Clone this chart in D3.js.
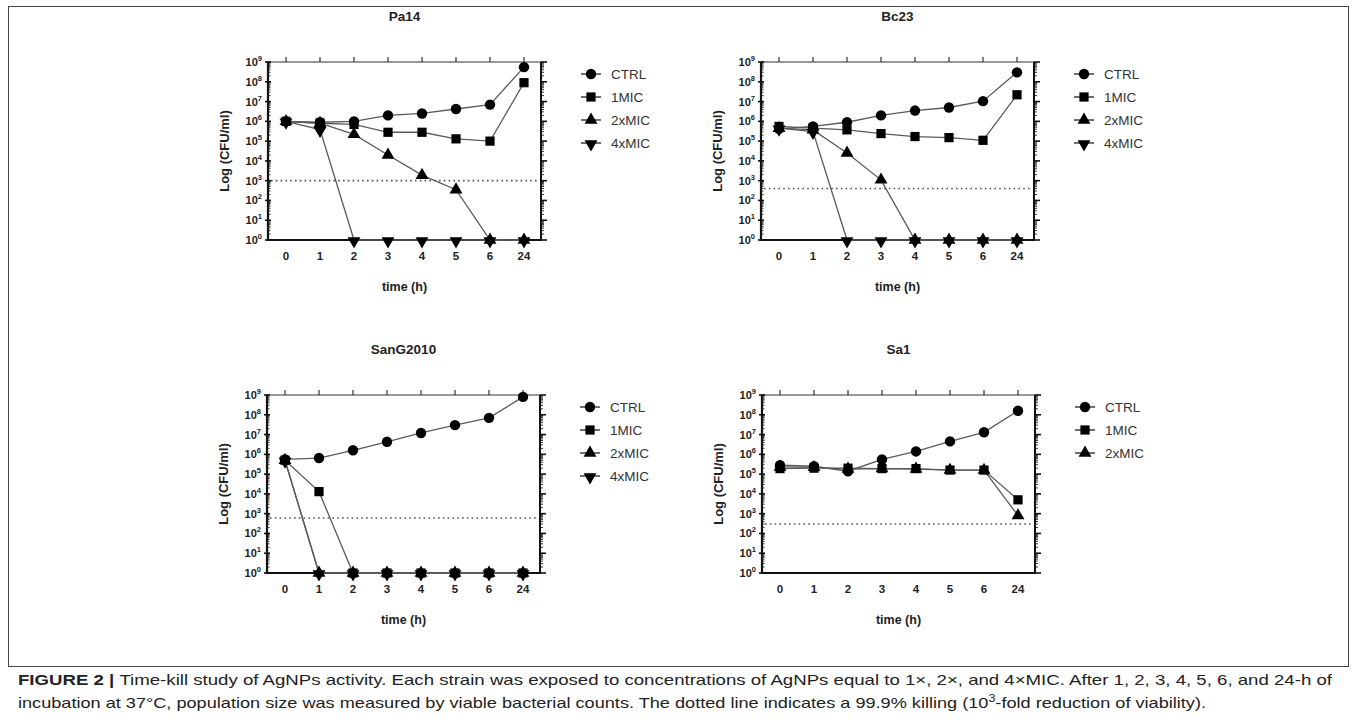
<!DOCTYPE html>
<html><head><meta charset="utf-8">
<script src="https://cdn.jsdelivr.net/npm/d3@7/dist/d3.min.js"></script>
<style>
body{margin:0;background:#fff;}
svg{display:block;font-family:"Liberation Sans",Arial,sans-serif;}
</style></head>
<body><svg id="c" width="1357" height="722"></svg>
<script>
// ---- data ----
const timeLabels = ["0","1","2","3","4","5","6","24"];
const yExponents = [0,1,2,3,4,5,6,7,8,9];
const seriesNames = ["CTRL","1MIC","2xMIC","4xMIC"];
const strainNames = ["Pa14","Bc23","SanG2010","Sa1"];

const pa14_CTRL  = [1e6, 9e5, 1e6, 2e6, 2.5e6, 4.2e6, 7e6, 5.5e8];
const pa14_1MIC  = [1e6, 8e5, 7e5, 2.8e5, 2.8e5, 1.3e5, 1e5, 9e7];
const pa14_2xMIC = [1e6, 8e5, 2.2e5, 2e4, 1.9e3, 3.5e2, 1, 1];
const pa14_4xMIC = [1e6, 3.8e5, 1, 1, 1, 1, 1, 1];
const pa14_threshold = 1e3;

const bc23_CTRL  = [4.2e5, 5.5e5, 9e5, 2e6, 3.5e6, 5e6, 1.05e7, 3e8];
const bc23_1MIC  = [5.5e5, 4.5e5, 3.7e5, 2.4e5, 1.7e5, 1.5e5, 1.1e5, 2.2e7];
const bc23_2xMIC = [4.5e5, 3.7e5, 2.5e4, 1.1e3, 1, 1, 1, 1];
const bc23_4xMIC = [4.5e5, 3e5, 1, 1, 1, 1, 1, 1];
const bc23_threshold = 4e2;

const sang_CTRL  = [5.5e5, 6.5e5, 1.6e6, 4.3e6, 1.2e7, 3e7, 7e7, 8e8];
const sang_1MIC  = [5e5, 1.3e4, 1, 1, 1, 1, 1, 1];
const sang_2xMIC = [5e5, 1, 1, 1, 1, 1, 1, 1];
const sang_4xMIC = [5e5, 1, 1, 1, 1, 1, 1, 1];
const sang_threshold = 6e2;

const sa1_CTRL  = [2.8e5, 2.5e5, 1.4e5, 5.5e5, 1.4e6, 4.5e6, 1.3e7, 1.6e8];
const sa1_1MIC  = [1.9e5, 2e5, 2e5, 1.9e5, 1.9e5, 1.6e5, 1.6e5, 5e3];
const sa1_2xMIC = [2.3e5, 2.2e5, 1.8e5, 1.9e5, 1.8e5, 1.6e5, 1.6e5, 8e2];
const sa1_threshold = 3e2;

// ---- layout ----
const panels = [
  {name:strainNames[0], x0:268, y0:62, series:[pa14_CTRL,pa14_1MIC,pa14_2xMIC,pa14_4xMIC], thr:pa14_threshold},
  {name:strainNames[1], x0:761, y0:62, series:[bc23_CTRL,bc23_1MIC,bc23_2xMIC,bc23_4xMIC], thr:bc23_threshold},
  {name:strainNames[2], x0:267, y0:395, series:[sang_CTRL,sang_1MIC,sang_2xMIC,sang_4xMIC], thr:sang_threshold},
  {name:strainNames[3], x0:762, y0:395, series:[sa1_CTRL,sa1_1MIC,sa1_2xMIC], thr:sa1_threshold}
];
const W = 273, H = 178;
const shapes = [d3.symbolCircle, d3.symbolSquare, d3.symbolTriangle, d3.symbolTriangle];
const sizes = [85, 85, 72, 72];
const rot = [0,0,0,180];

const svg = d3.select("#c");

// frame
svg.append("rect").attr("x",8.5).attr("y",6.5).attr("width",1340).attr("height",660)
  .attr("fill","none").attr("stroke","#444").attr("stroke-width",1);

panels.forEach(p => {
  const g = svg.append("g");
  const x1 = p.x0 + W, y1 = p.y0 + H;
  const x = d3.scalePoint().domain(timeLabels).range([p.x0+18, x1-17]);
  const y = d3.scaleLog().domain([1,1e9]).range([y1, p.y0]);

  // title
  g.append("text").attr("x",(p.x0+x1)/2).attr("y",p.y0-41).attr("text-anchor","middle")
    .attr("font-weight","bold").attr("font-size",13.5).attr("fill","#222").text(p.name);

  // top line + ticks
  g.append("line").attr("x1",p.x0).attr("x2",x1).attr("y1",p.y0).attr("y2",p.y0)
    .attr("stroke","#333").attr("stroke-width",1.2);
  timeLabels.forEach(t => {
    g.append("line").attr("x1",x(t)).attr("x2",x(t)).attr("y1",p.y0).attr("y2",p.y0-5)
      .attr("stroke","#333").attr("stroke-width",1.2);
  });

  // minor/major ticks for log axes
  const minor = [];
  for (let e=0;e<9;e++) for (let m=2;m<=9;m++) minor.push(m*Math.pow(10,e));
  g.append("line").attr("x1",p.x0).attr("x2",p.x0).attr("y1",p.y0).attr("y2",y1)
    .attr("stroke","#111").attr("stroke-width",2.2);
  minor.forEach(v => {
    g.append("line").attr("x1",p.x0).attr("x2",p.x0+2.5).attr("y1",y(v)).attr("y2",y(v))
      .attr("stroke","#222").attr("stroke-width",0.9);
    g.append("line").attr("x1",x1).attr("x2",x1+3).attr("y1",y(v)).attr("y2",y(v))
      .attr("stroke","#222").attr("stroke-width",0.9);
  });
  yExponents.forEach(e => {
    const v = Math.pow(10,e);
    g.append("line").attr("x1",p.x0-3).attr("x2",p.x0+3).attr("y1",y(v)).attr("y2",y(v))
      .attr("stroke","#111").attr("stroke-width",1.6);
    g.append("line").attr("x1",x1).attr("x2",x1+6).attr("y1",y(v)).attr("y2",y(v))
      .attr("stroke","#111").attr("stroke-width",1.6);
    const t = g.append("text").attr("x",p.x0-6).attr("y",y(v)+4).attr("text-anchor","end")
      .attr("font-weight","bold").attr("font-size",11).attr("fill","#222");
    t.append("tspan").text("10");
    t.append("tspan").attr("dy",-5).attr("font-size",7.5).text(e);
  });
  g.append("line").attr("x1",x1).attr("x2",x1).attr("y1",p.y0).attr("y2",y1)
    .attr("stroke","#111").attr("stroke-width",2);
  g.append("line").attr("x1",p.x0-1).attr("x2",x1+1).attr("y1",y1).attr("y2",y1)
    .attr("stroke","#111").attr("stroke-width",2.2);
  timeLabels.forEach(t => {
    g.append("text").attr("x",x(t)).attr("y",y1+20).attr("text-anchor","middle")
      .attr("font-weight","bold").attr("font-size",11.5).attr("fill","#222").text(t);
  });
  g.append("text").attr("x",(p.x0+x1)/2).attr("y",y1+51).attr("text-anchor","middle")
    .attr("font-weight","bold").attr("font-size",12.5).attr("fill","#222").text("time (h)");
  g.append("text").attr("transform",`translate(${p.x0-39},${(p.y0+y1)/2}) rotate(-90)`)
    .attr("text-anchor","middle").attr("font-weight","bold").attr("font-size",13)
    .attr("fill","#222").text("Log (CFU/ml)");

  g.append("line").attr("x1",p.x0+3).attr("x2",x1-2).attr("y1",y(p.thr)).attr("y2",y(p.thr))
    .attr("stroke","#555").attr("stroke-width",1.6).attr("stroke-dasharray","1.6,3.2");

  const line = d3.line().x((d,i)=>x(timeLabels[i])).y(d=>y(d));
  for (let s=p.series.length-1; s>=0; s--) {
    g.append("path").attr("d",line(p.series[s])).attr("fill","none")
      .attr("stroke","#5a5a5a").attr("stroke-width",1.3);
  }
  for (let s=p.series.length-1; s>=0; s--) {
    const sym = d3.symbol().type(shapes[s]).size(sizes[s]);
    p.series[s].forEach((v,i) => {
      g.append("path").attr("d",sym())
        .attr("transform",`translate(${x(timeLabels[i])},${y(v) + (rot[s]?1:0)}) rotate(${rot[s]})`)
        .attr("fill","#000");
    });
  }

  const lx = x1 + 50;
  p.series.forEach((vals,s) => {
    const ly = p.y0 + 12 + s*23;
    g.append("line").attr("x1",lx-10).attr("x2",lx+10).attr("y1",ly).attr("y2",ly)
      .attr("stroke","#333").attr("stroke-width",1.4);
    const sym = d3.symbol().type(shapes[s]).size(sizes[s]);
    g.append("path").attr("d",sym()).attr("transform",`translate(${lx},${ly + (rot[s]?1:0)}) rotate(${rot[s]})`).attr("fill","#000");
    g.append("text").attr("x",lx+20).attr("y",ly+5).attr("font-size",13.5).attr("fill","#333")
      .text(seriesNames[s]);
  });
});

// caption
const cap1 = svg.append("text").attr("x",18).attr("y",685).attr("font-size",14.5).attr("fill","#222")
  .attr("textLength",1314).attr("lengthAdjust","spacingAndGlyphs");
cap1.append("tspan").attr("font-weight","bold").text("FIGURE 2 | ");
cap1.append("tspan").text("Time-kill study of AgNPs activity. Each strain was exposed to concentrations of AgNPs equal to 1\u00d7, 2\u00d7, and 4\u00d7MIC. After 1, 2, 3, 4, 5, 6, and 24-h of");
const cap2 = svg.append("text").attr("x",18).attr("y",708).attr("font-size",14.5).attr("fill","#222")
  .attr("textLength",1188).attr("lengthAdjust","spacingAndGlyphs");
cap2.append("tspan").text("incubation at 37\u00b0C, population size was measured by viable bacterial counts. The dotted line indicates a 99.9% killing (10");
cap2.append("tspan").attr("dy",-6).attr("font-size",10).text("3");
cap2.append("tspan").attr("dy",6).text("-fold reduction of viability).");
</script></body></html>
